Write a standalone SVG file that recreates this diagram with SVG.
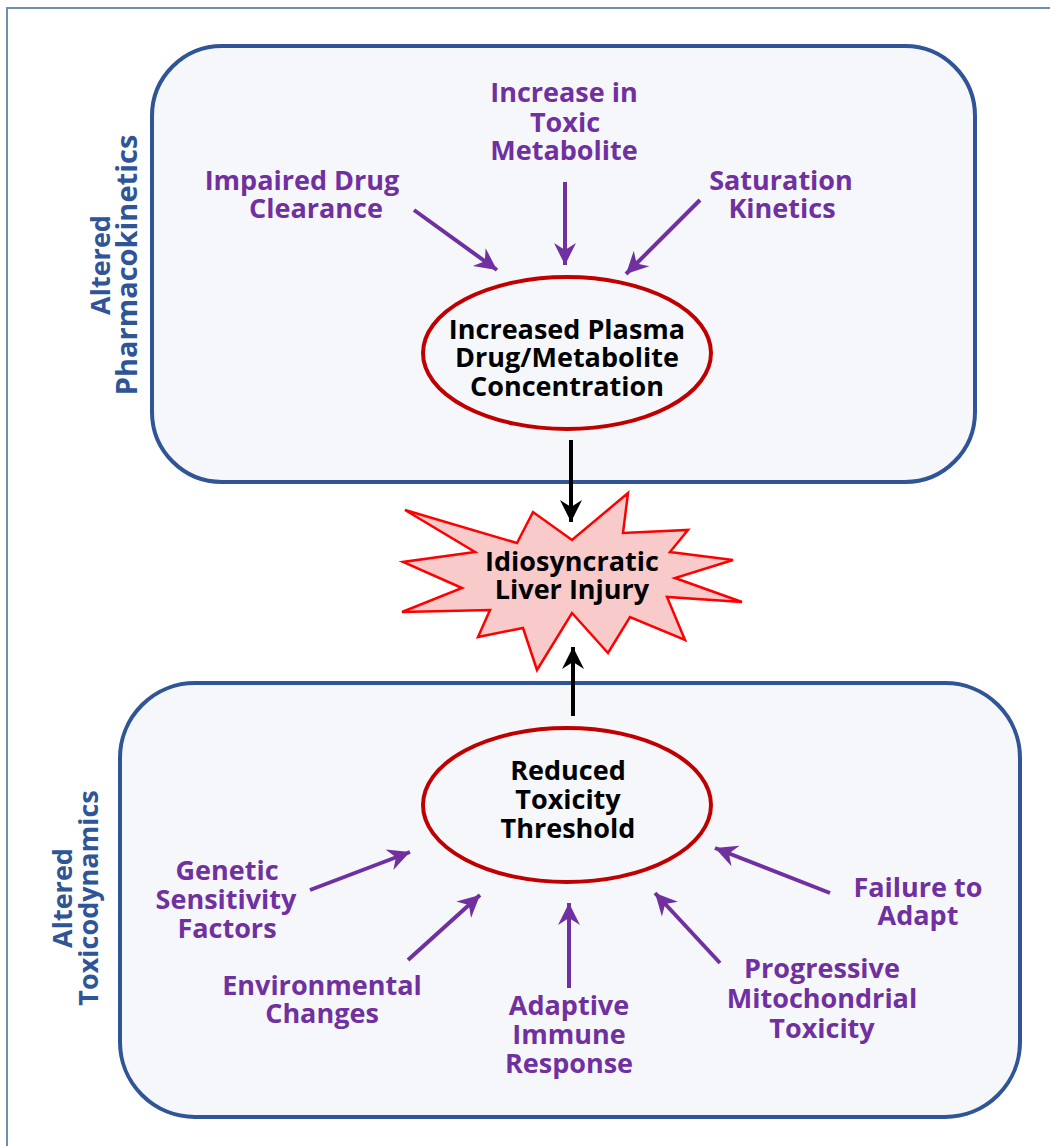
<svg xmlns="http://www.w3.org/2000/svg" width="1050" height="1146" viewBox="0 0 1050 1146">
<style>
.box{fill:#F5F7FB;stroke:#2F5597;stroke-width:4}
.ell{fill:none;stroke:#C00000;stroke-width:4}
.t{font-family:"Open Sans","Noto Sans","Liberation Sans",sans-serif;font-weight:bold;font-size:27px;text-anchor:middle}
.p{fill:#7030A0}
.k{fill:#000}
.b{fill:#2F5597}
.pa{stroke:#7030A0;stroke-width:4;fill:none;marker-end:url(#hp)}
.ka{stroke:#000;stroke-width:4;fill:none;marker-end:url(#hk)}
</style>
<defs>
<marker id="hp" markerUnits="userSpaceOnUse" markerWidth="24" markerHeight="24" refX="22" refY="11" orient="auto" viewBox="0 0 24 22">
<path d="M0,0 L22,11 L0,22 L7,11 z" fill="#7030A0"/>
</marker>
<marker id="hk" markerUnits="userSpaceOnUse" markerWidth="24" markerHeight="24" refX="22" refY="11" orient="auto" viewBox="0 0 24 22">
<path d="M0,0 L22,11 L0,22 L7,11 z" fill="#000"/>
</marker>
</defs>
<rect x="0" y="0" width="1050" height="1146" fill="#fff"/>
<rect x="7" y="8" width="1100" height="1200" fill="none" stroke="#6F8FAF" stroke-width="2"/>

<g id="pk-box">
<rect class="box" x="152" y="46" width="823" height="436" rx="70" ry="70"/>
<text class="t b" transform="translate(110,265) rotate(-90)">Altered</text>
<text class="t b" style="font-size:29px" transform="translate(137,265) rotate(-90)">Pharmacokinetics</text>
</g>
<g id="td-box">
<rect class="box" x="120" y="683" width="900" height="434" rx="75" ry="75"/>
<text class="t b" transform="translate(72,898) rotate(-90)">Altered</text>
<text class="t b" transform="translate(98,898) rotate(-90)">Toxicodynamics</text>
</g>

<g id="connectors">
<path class="pa" d="M414,210 L497,270"/>
<path class="pa" d="M565,182 L565,265"/>
<path class="pa" d="M700,200 L626,274"/>
<path class="ka" d="M571,440 L571,522"/>
<path class="ka" d="M573,716 L573,647"/>
<path class="pa" d="M310,890 L410,852"/>
<path class="pa" d="M408,960 L480,895"/>
<path class="pa" d="M569,988 L569,903"/>
<path class="pa" d="M720,963 L655,893"/>
<path class="pa" d="M830,893 L715,848"/>
</g>

<g id="impaired">
<text class="t p" x="302" y="190">Impaired Drug</text>
<text class="t p" x="316" y="218">Clearance</text>
</g>
<g id="toxic-metabolite">
<text class="t p" x="564" y="102">Increase in</text>
<text class="t p" x="565" y="132">Toxic</text>
<text class="t p" x="564" y="160">Metabolite</text>
</g>
<g id="saturation">
<text class="t p" x="781" y="190">Saturation</text>
<text class="t p" x="782" y="218">Kinetics</text>
</g>
<g id="plasma">
<ellipse class="ell" cx="567" cy="353" rx="144" ry="76"/>
<text class="t k" x="567" y="339">Increased Plasma</text>
<text class="t k" x="567" y="367">Drug/Metabolite</text>
<text class="t k" x="567" y="396">Concentration</text>
</g>
<g id="injury">
<polygon points="628,493 623,533 688,530 670,552 733,560 675,578 742,602 667,597 685,640 630,617 608,653 572,613 537,670 523,628 478,637 490,610 402,612 462,588 403,562 475,552 405,510 517,543 533,512 572,540" fill="#F9CACA" stroke="#FF0000" stroke-width="2.5" stroke-linejoin="miter"/>
<text class="t k" x="572" y="571">Idiosyncratic</text>
<text class="t k" x="572" y="599">Liver Injury</text>
</g>
<g id="threshold">
<ellipse class="ell" cx="567" cy="805" rx="144" ry="77"/>
<text class="t k" x="568" y="780">Reduced</text>
<text class="t k" x="568" y="809">Toxicity</text>
<text class="t k" x="568" y="838">Threshold</text>
</g>
<g id="genetic">
<text class="t p" x="227" y="880">Genetic</text>
<text class="t p" x="226" y="909">Sensitivity</text>
<text class="t p" x="227" y="938">Factors</text>
</g>
<g id="environmental">
<text class="t p" x="322" y="995">Environmental</text>
<text class="t p" x="322" y="1023">Changes</text>
</g>
<g id="adaptive">
<text class="t p" x="569" y="1015">Adaptive</text>
<text class="t p" x="569" y="1044">Immune</text>
<text class="t p" x="569" y="1073">Response</text>
</g>
<g id="mito">
<text class="t p" x="822" y="978">Progressive</text>
<text class="t p" x="822" y="1008">Mitochondrial</text>
<text class="t p" x="822" y="1038">Toxicity</text>
</g>
<g id="failure">
<text class="t p" x="918" y="897">Failure to</text>
<text class="t p" x="918" y="925">Adapt</text>
</g>
</svg>
